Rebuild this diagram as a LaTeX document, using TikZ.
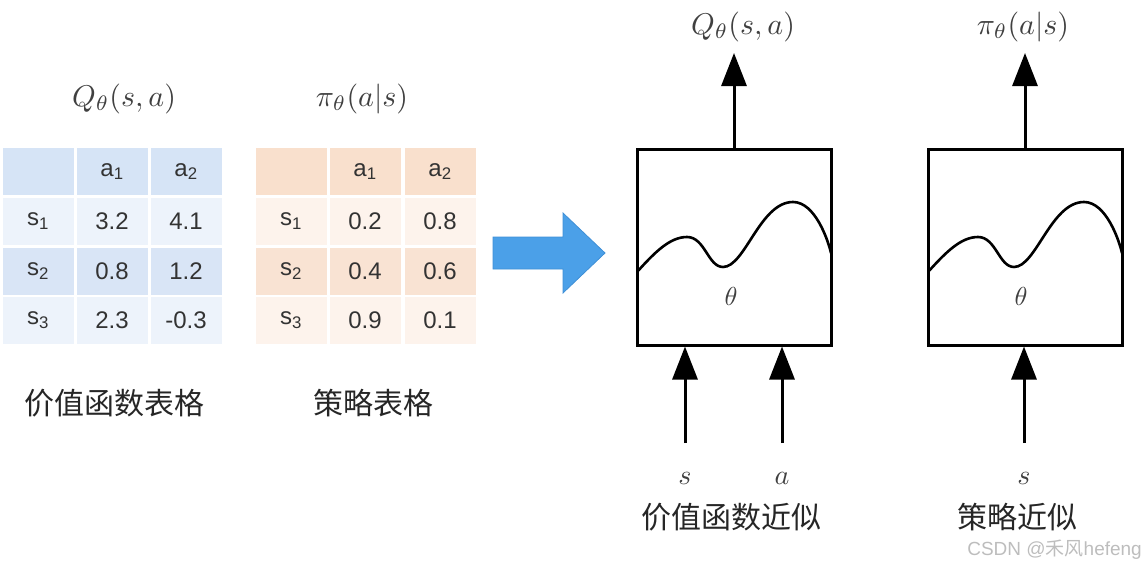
\documentclass[tikz,border=0pt]{standalone}
\usepackage{fontspec}
\setmainfont{Liberation Sans}
\newfontfamily\cjk{Noto Sans CJK SC}
\usetikzlibrary{arrows.meta}
\definecolor{bhead}{HTML}{D6E4F6}
\definecolor{blite}{HTML}{EDF3FB}
\definecolor{bdark}{HTML}{D9E5F6}
\definecolor{ohead}{HTML}{F9E0CD}
\definecolor{olite}{HTML}{FDF3EC}
\definecolor{odark}{HTML}{F9E3D3}
\definecolor{arrblue}{HTML}{4BA0E8}
\definecolor{arredge}{HTML}{3F8FD6}
\definecolor{txt}{HTML}{333333}
\definecolor{mtxt}{HTML}{404040}
\definecolor{wm}{HTML}{BDBDBD}
\newcommand{\bigmath}[2]{\scalebox{#1}{$#2$}}
\tikzset{
  cell/.style={minimum width=71pt, minimum height=47pt, inner sep=0pt, text=txt,
    font=\fontsize{24}{28}\selectfont},
  mlabel/.style={text=mtxt, inner sep=0pt},
  cjklabel/.style={text=black!85, inner sep=0pt, font=\cjk\fontsize{30}{34}\selectfont},
  netbox/.style={draw, line width=3pt, minimum width=194pt, minimum height=196pt, inner sep=0pt},
  arr/.style={line width=3pt, -{Triangle[width=25pt,length=33pt]}},
  wave/.pic={
    \draw[line width=2.6pt] (0,0) .. controls (18,-20) and (33,-35) .. (50,-35)
      .. controls (68,-35) and (71,-5) .. (86,-5)
      .. controls (108,-5) and (123,-70) .. (156,-70)
      .. controls (178,-70) and (191,-32) .. (194,-19);
  }
}
\begin{document}
\begin{tikzpicture}[x=1pt, y=-1pt]
\useasboundingbox (0,0) rectangle (1146,570);

% ---------- value table ----------
\node[mlabel] (qtitle) at (124,99) {\bigmath{3}{Q_\theta(s,a)}};
\foreach \c/\x in {1/38,2/112,3/186}{
  \foreach \r/\y/\col in {0/171.5/bhead,1/221/blite,2/271/bdark,3/320.5/blite}{
    \node[cell, fill=\col] (v\r\c) at (\x,\y) {};
  }
}
\node[cell] at (v02) {a\textsubscript{1}};
\node[cell] at (v03) {a\textsubscript{2}};
\node[cell] at (v11) {s\textsubscript{1}};
\node[cell] at (v21) {s\textsubscript{2}};
\node[cell] at (v31) {s\textsubscript{3}};
\node[cell] at (v12) {3.2};
\node[cell] at (v13) {4.1};
\node[cell] at (v22) {0.8};
\node[cell] at (v23) {1.2};
\node[cell] at (v32) {2.3};
\node[cell] at (v33) {-0.3};
\node[cjklabel] (vlabel) at (114,403) {价值函数表格};

% ---------- policy table ----------
\node[mlabel] (ptitle) at (362,99) {\bigmath{3}{\pi_\theta(a|s)}};
\foreach \c/\x in {1/291,2/365,3/440}{
  \foreach \r/\y/\col in {0/171.5/ohead,1/221/olite,2/271/odark,3/320.5/olite}{
    \node[cell, fill=\col] (p\r\c) at (\x,\y) {};
  }
}
\node[cell] at (p02) {a\textsubscript{1}};
\node[cell] at (p03) {a\textsubscript{2}};
\node[cell] at (p11) {s\textsubscript{1}};
\node[cell] at (p21) {s\textsubscript{2}};
\node[cell] at (p31) {s\textsubscript{3}};
\node[cell] at (p12) {0.2};
\node[cell] at (p13) {0.8};
\node[cell] at (p22) {0.4};
\node[cell] at (p23) {0.6};
\node[cell] at (p32) {0.9};
\node[cell] at (p33) {0.1};
\node[cjklabel] (plabel) at (373,403) {策略表格};

% ---------- big blue arrow ----------
\draw[fill=arrblue, draw=arredge, line width=0.8pt, line join=miter]
  (493,237) -- (563,237) -- (563,213) -- (605,253) -- (563,293) -- (563,269) -- (493,269) -- cycle;

% ---------- value network ----------
\node[netbox] (box1) at (734,247) {};
\pic at (637,272) {wave};
\node[mlabel] (th1) at (731,296) {\bigmath{2.6}{\theta}};
\coordinate (q1tip) at (734,53);
\draw[arr] (box1.north) -- (q1tip);
\node[mlabel] (qout) at (743,27) {\bigmath{3}{Q_\theta(s,a)}};
\coordinate (sin1) at (685,443);
\coordinate (ain1) at (782,443);
\draw[arr] (sin1) -- (sin1 |- box1.south);
\draw[arr] (ain1) -- (ain1 |- box1.south);
\node[mlabel] (s1) at (685,478) {\bigmath{2.8}{s}};
\node[mlabel] (a1) at (782,478) {\bigmath{2.8}{a}};
\node[cjklabel] (vapprox) at (731,517) {价值函数近似};

% ---------- policy network ----------
\node[netbox] (box2) at (1025,247) {};
\pic at (928,272) {wave};
\node[mlabel] (th2) at (1021,296) {\bigmath{2.6}{\theta}};
\coordinate (p2tip) at (1025,53);
\draw[arr] (box2.north) -- (p2tip);
\node[mlabel] (pout) at (1023,27) {\bigmath{3}{\pi_\theta(a|s)}};
\coordinate (sin2) at (1024,443);
\draw[arr] (sin2) -- (sin2 |- box2.south);
\node[mlabel] (s2) at (1024,478) {\bigmath{2.8}{s}};
\node[cjklabel] (papprox) at (1017,517) {策略近似};

% ---------- watermark ----------
\node[text=wm, inner sep=0pt, font=\fontsize{19}{22}\selectfont, anchor=east] (wmark) at (1142,550) {CSDN @{\cjk 禾风}hefeng};
\end{tikzpicture}
\end{document}
